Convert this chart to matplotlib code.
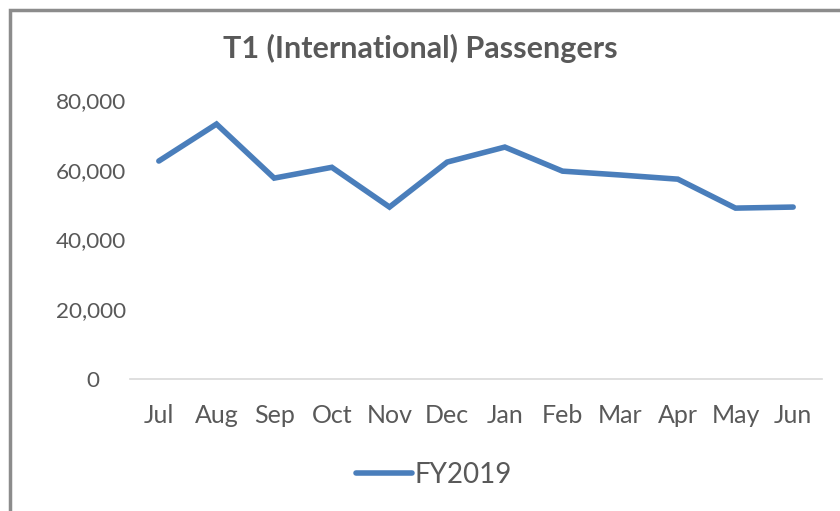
import matplotlib
matplotlib.use("Agg")
import matplotlib.pyplot as plt
from matplotlib.patches import Rectangle
from matplotlib.ticker import FuncFormatter

months = ["Jul", "Aug", "Sep", "Oct", "Nov", "Dec",
          "Jan", "Feb", "Mar", "Apr", "May", "Jun"]
fy2019 = [62500, 73100, 57600, 60700, 49300, 62200,
          66500, 59600, 58500, 57300, 49000, 49300]

plt.rcParams['font.family'] = ['Lato', 'DejaVu Sans']
text_col = '#595959'


def fmt(v, p):
    # Excel pads the zero label on the right
    return "0\u2007\u2007" if v == 0 else f"{int(v):,}"


fig = plt.figure(figsize=(8.4, 5.11), dpi=100)
ax = fig.add_axes([130 / 840, 1 - 379 / 511, 692 / 840, 279 / 511])

x = list(range(len(months)))
ax.plot(x, fy2019, color='#4A7EBB', linewidth=4, solid_capstyle='round',
        solid_joinstyle='miter', label='FY2019')

ax.set_xlim(-0.5, len(months) - 0.5)
ax.set_ylim(0, 80000)
ax.set_yticks([0, 20000, 40000, 60000, 80000])
ax.yaxis.set_major_formatter(FuncFormatter(fmt))
ax.set_xticks(x)
ax.set_xticklabels(months)

for s in ['top', 'right', 'left']:
    ax.spines[s].set_visible(False)
ax.spines['bottom'].set_color('#D9D9D9')
ax.spines['bottom'].set_linewidth(1.2)
ax.tick_params(axis='y', length=0, labelsize=16.2, colors=text_col, pad=3)
ax.tick_params(axis='x', length=0, labelsize=18, colors=text_col, pad=18)

fig.text(420 / 840, 1 - 48 / 511, "T1 (International) Passengers",
         ha='center', va='center', fontsize=22, fontweight='bold', color=text_col)

leg = fig.legend(loc='center', bbox_to_anchor=(434 / 840, 1 - 475 / 511),
                 frameon=False, fontsize=20, handlelength=2.0, handletextpad=0.1)
for t in leg.get_texts():
    t.set_color(text_col)

fig.patches.append(Rectangle((9.5 / 840, -0.1), 1.2, 1 - 9.5 / 511 + 0.1,
                             transform=fig.transFigure, fill=False,
                             edgecolor='#8C8C8C', linewidth=2.5))

fig.savefig("out.png", dpi=100)
